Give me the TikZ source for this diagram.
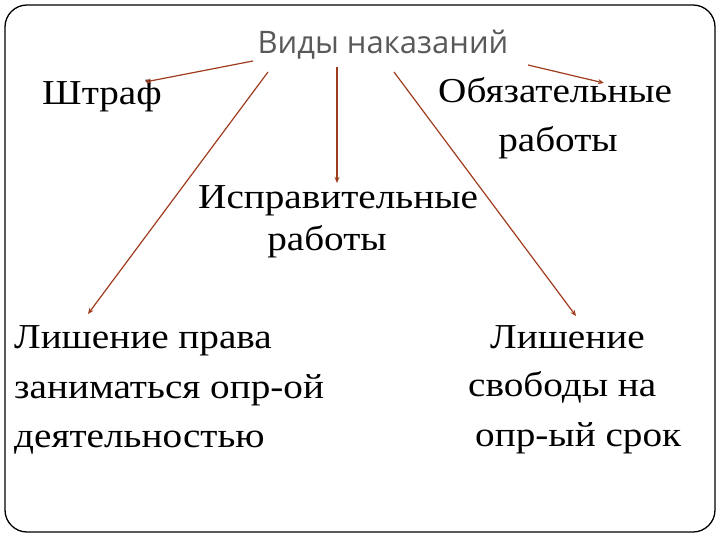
\documentclass[tikz,border=0pt]{standalone}
\usepackage{fontspec}
\setmainfont{Liberation Serif}[FakeStretch=1.12]
\newfontfamily\titlefont{Open Sans}
\usetikzlibrary{arrows.meta}
\definecolor{arr}{RGB}{160,60,30}
\definecolor{tgray}{RGB}{89,89,89}
\begin{document}
\begin{tikzpicture}[x=1pt,y=-1pt,
  lbl/.style={inner sep=0pt,font=\fontsize{35}{49}\selectfont},
  ttl/.style={inner sep=0pt,font=\titlefont\fontsize{31}{36}\selectfont,text=tgray},
  con/.style={draw=arr,line width=1.2pt,-{Stealth[length=6pt,width=5pt]}}]
\useasboundingbox (0,0) rectangle (720,540);
\draw[line width=1.3pt,rounded corners=22pt] (5,5) rectangle (715,532);
\node[ttl,anchor=base] (title) at (383,54) {Виды наказаний};
\node[lbl,anchor=base west] (fine) at (42,105) {Штраф};
\node[lbl,anchor=base west] (oblig) at (438,103) {Обязательные};
\node[lbl,anchor=base] (oblig2) at (558,152) {работы};
\node[lbl,anchor=base west] (corr) at (198,209) {Исправительные};
\node[lbl,anchor=base] (corr2) at (327,250) {работы};
\node[lbl,anchor=base west] (depr) at (14,348) {Лишение права};
\node[lbl,anchor=base west] (depr2) at (14,398) {заниматься опр-ой};
\node[lbl,anchor=base west] (depr3) at (14,447) {деятельностью};
\node[lbl,anchor=base west] (lib) at (490,348) {Лишение};
\node[lbl,anchor=base west] (lib2) at (468,396) {свободы на};
\node[lbl,anchor=base west] (lib3) at (475,446) {опр-ый срок};
\coordinate (s1) at (253,61); \coordinate (e1) at (145,82);
\coordinate (s2) at (268,72); \coordinate (e2) at (88,314);
\coordinate (s3) at (337,67); \coordinate (e3) at (337,183);
\coordinate (s4) at (394,72); \coordinate (e4) at (576,316);
\coordinate (s5) at (528,65); \coordinate (e5) at (604,83);
\draw[con] (s1) -- (e1);
\draw[con] (s2) -- (e2);
\draw[con] (s3) -- (e3);
\draw[con] (s4) -- (e4);
\draw[con] (s5) -- (e5);
\end{tikzpicture}
\end{document}
